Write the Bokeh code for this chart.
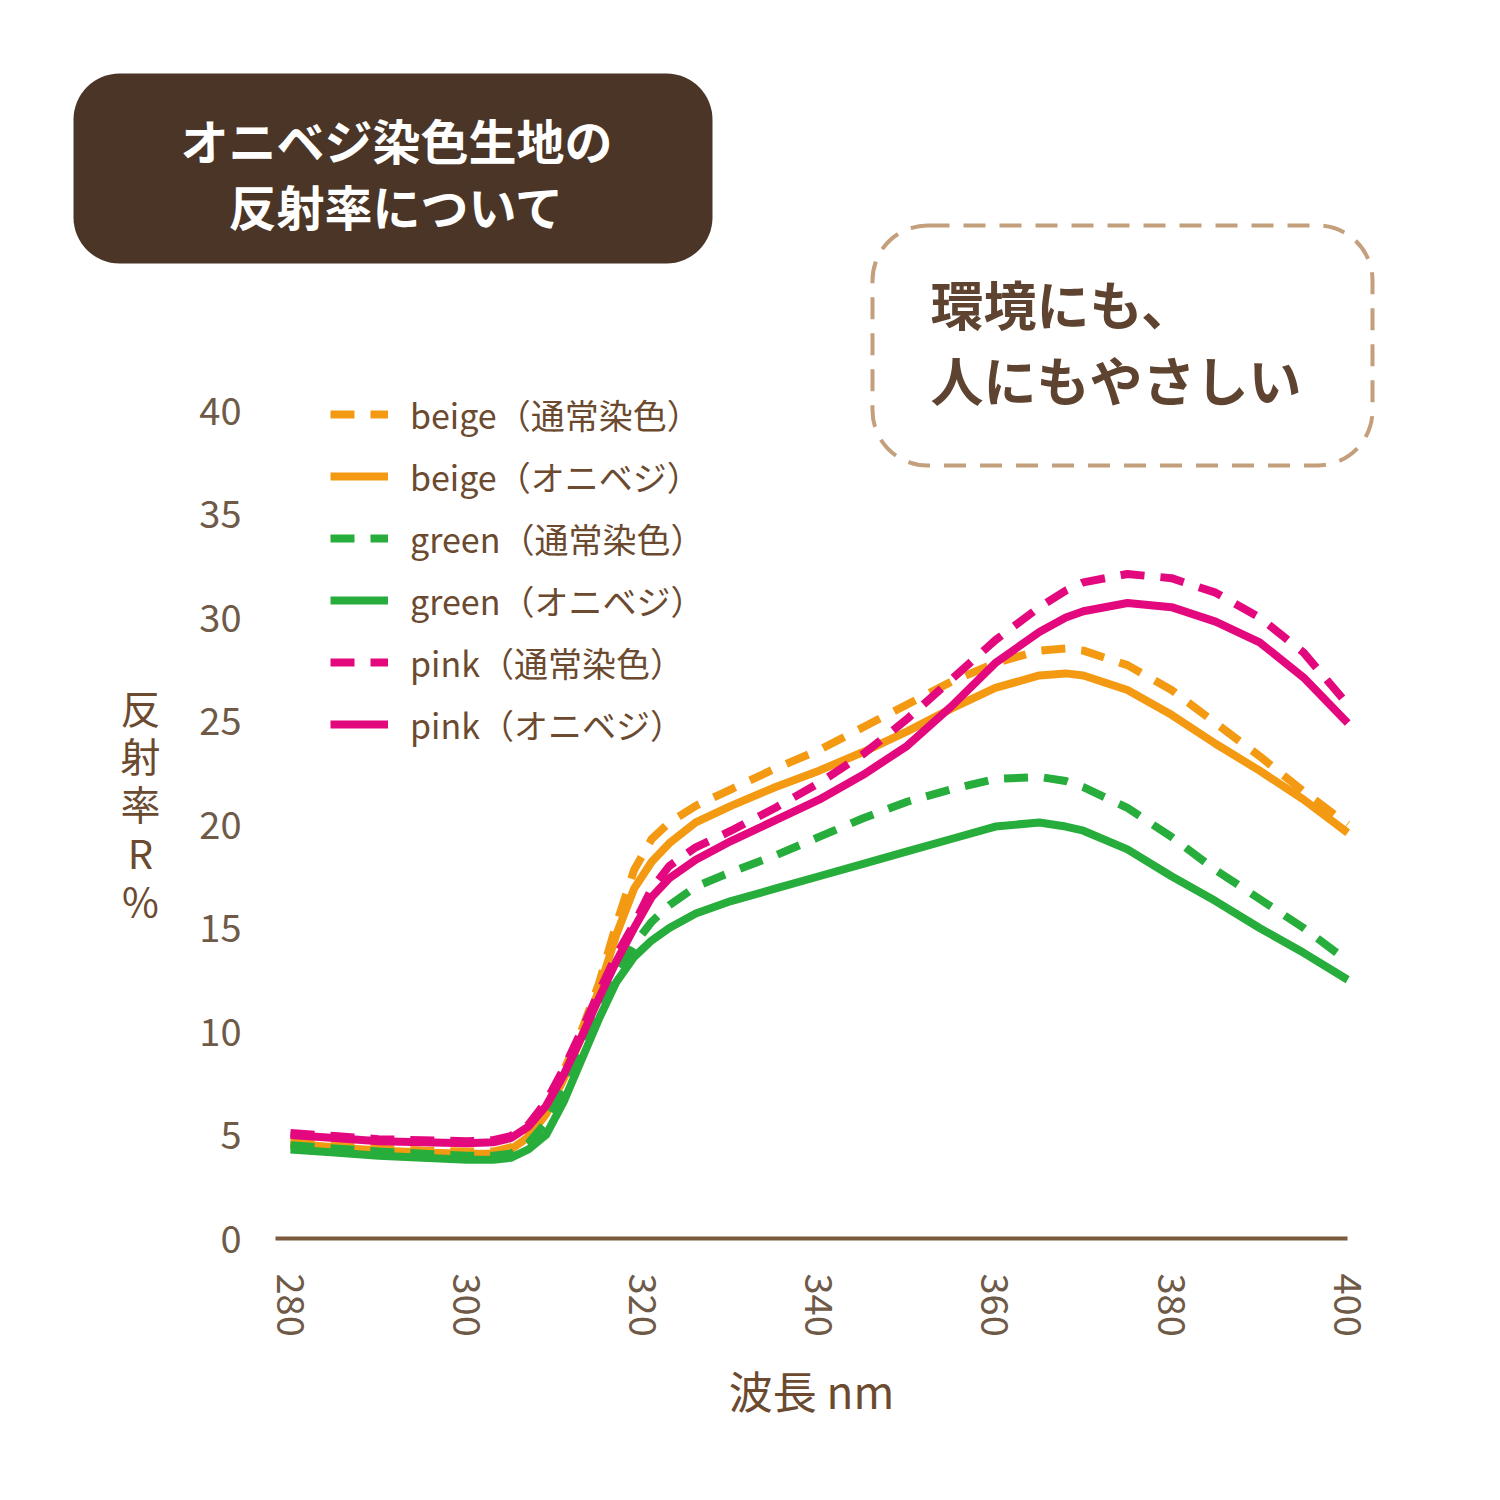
from bokeh.plotting import figure
from bokeh.models import Range1d, FixedTicker, Legend, LegendItem, BoxAnnotation, Label
from bokeh.embed import file_html
from bokeh.resources import INLINE

# ---- data ----
wavelength = [280, 285, 290, 295, 300, 303, 305, 307, 309, 311, 313, 315, 317, 319, 321, 323,
              326, 330, 335, 340, 345, 350, 355, 360, 365, 368, 370, 375, 380, 385, 390, 395, 400]

beige_regular = [4.7, 4.5, 4.35, 4.25, 4.2, 4.2, 4.4, 5.0, 6.3, 8.1, 10.0, 12.3, 15.2, 17.8, 19.3, 20.1,
                 20.9, 21.7, 22.7, 23.6, 24.7, 25.8, 26.9, 27.8, 28.4, 28.5, 28.4, 27.7, 26.5, 24.9, 23.3, 21.6, 20.0]
beige_onibeji = [4.6, 4.4, 4.25, 4.15, 4.1, 4.1, 4.3, 4.9, 6.0, 7.7, 9.7, 12.0, 14.7, 16.9, 18.2, 19.1,
                 20.1, 20.9, 21.8, 22.6, 23.5, 24.5, 25.6, 26.6, 27.2, 27.3, 27.2, 26.5, 25.3, 23.9, 22.6, 21.2, 19.6]
green_regular = [4.5, 4.35, 4.2, 4.1, 4.0, 4.0, 4.1, 4.6, 5.6, 7.2, 9.0, 10.9, 12.7, 14.2, 15.3, 16.1,
                 17.0, 17.7, 18.5, 19.4, 20.3, 21.1, 21.7, 22.2, 22.3, 22.1, 21.8, 20.8, 19.4, 17.8, 16.4, 15.0, 13.4]
green_onibeji = [4.3, 4.15, 4.0, 3.9, 3.8, 3.8, 3.9, 4.3, 5.0, 6.6, 8.6, 10.6, 12.4, 13.6, 14.4, 15.0,
                 15.7, 16.3, 16.9, 17.5, 18.1, 18.7, 19.3, 19.9, 20.1, 19.9, 19.7, 18.8, 17.5, 16.3, 15.0, 13.8, 12.5]
pink_regular = [5.1, 4.95, 4.8, 4.75, 4.7, 4.75, 4.95, 5.5, 6.6, 8.2, 10.0, 11.9, 13.7, 15.2, 16.9, 18.0,
                18.9, 19.7, 20.8, 22.0, 23.4, 25.1, 27.0, 28.9, 30.5, 31.3, 31.7, 32.1, 31.9, 31.2, 30.0, 28.3, 25.8]
pink_onibeji = [5.0, 4.85, 4.7, 4.65, 4.6, 4.65, 4.85, 5.4, 6.4, 7.9, 9.7, 11.6, 13.4, 15.0, 16.5, 17.4,
                18.3, 19.2, 20.2, 21.2, 22.4, 23.8, 25.7, 27.8, 29.3, 30.0, 30.3, 30.7, 30.5, 29.8, 28.8, 27.1, 24.9]

series_labels = ["beige（通常染色）", "beige（オニベジ）", "green（通常染色）",
                 "green（オニベジ）", "pink（通常染色）", "pink（オニベジ）"]
x_ticks = [280, 300, 320, 340, 360, 380, 400]
y_ticks = [0, 5, 10, 15, 20, 25, 30, 35, 40]

title_lines = ["オニベジ染色生地の", "反射率について"]
note_lines = ["環境にも、", "人にもやさしい"]
y_title = "反\n射\n率\nR\n%"
x_title = "波長 nm"

# ---- styling / geometry ----
FONT = "Noto Sans CJK JP"
BROWN = "#6b4a30"
TICK_BROWN = "#6e5a47"
ORANGE = "#f39a12"
GREEN = "#27ad3b"
PINK = "#e4087f"

W = H = 1492
PX_PER_NM = 8.81          # horizontal scale
PX_PER_PCT = 20.7         # vertical scale
X0_PX, X0_NM = 290, 280   # where 280 nm sits
Y0_PX = 1238              # where 0 % sits
AXIS_LEFT_PX, AXIS_RIGHT_PX = 275, 1347

x_start = X0_NM - X0_PX / PX_PER_NM
x_end = X0_NM + (W - X0_PX) / PX_PER_NM
y_end = Y0_PX / PX_PER_PCT
y_start = -(H - Y0_PX) / PX_PER_PCT
axis_left_nm = X0_NM + (AXIS_LEFT_PX - X0_PX) / PX_PER_NM
axis_right_nm = X0_NM + (AXIS_RIGHT_PX - X0_PX) / PX_PER_NM

p = figure(width=W, height=H, output_backend="svg", toolbar_location=None,
           x_range=Range1d(x_start, x_end), y_range=Range1d(y_start, y_end),
           min_border=0, min_border_left=0, min_border_right=0,
           min_border_top=0, min_border_bottom=0)
p.background_fill_color = "white"
p.border_fill_color = "white"
p.outline_line_color = None
p.xgrid.visible = False
p.ygrid.visible = False

# axes drawn at fixed data locations inside the frame
xa = p.xaxis[0]
xa.fixed_location = 0
xa.bounds = (axis_left_nm, axis_right_nm)
xa.ticker = FixedTicker(ticks=x_ticks)
xa.major_label_orientation = "vertical"
xa.major_label_text_font = FONT
xa.major_label_text_font_size = "38px"
xa.major_label_text_color = TICK_BROWN
xa.major_label_standoff = 29
xa.major_tick_line_color = None
xa.minor_tick_line_color = None
xa.axis_line_color = "#7a5a3a"
xa.axis_line_width = 4
xa.axis_label = x_title
xa.axis_label_text_font = FONT
xa.axis_label_text_font_size = "44px"
xa.axis_label_text_font_style = "normal"
xa.axis_label_text_color = BROWN
xa.axis_label_standoff = 18

ya = p.yaxis[0]
ya.fixed_location = axis_left_nm
ya.bounds = (0, 40)
ya.ticker = FixedTicker(ticks=y_ticks)
ya.major_label_text_font = FONT
ya.major_label_text_font_size = "38px"
ya.major_label_text_color = TICK_BROWN
ya.major_label_standoff = 28
ya.major_tick_line_color = None
ya.minor_tick_line_color = None
ya.axis_line_color = None

# lines
DASH = "24 16"
LW = 8
kw = dict(line_width=LW, line_join="round")
r_br = p.line(wavelength, beige_regular, line_color=ORANGE, line_dash=DASH, **kw)
r_bo = p.line(wavelength, beige_onibeji, line_color=ORANGE, **kw)
r_gr = p.line(wavelength, green_regular, line_color=GREEN, line_dash=DASH, **kw)
r_go = p.line(wavelength, green_onibeji, line_color=GREEN, **kw)
r_pr = p.line(wavelength, pink_regular, line_color=PINK, line_dash=DASH, **kw)
r_po = p.line(wavelength, pink_onibeji, line_color=PINK, **kw)

renderers = [r_br, r_bo, r_gr, r_go, r_pr, r_po]
legend = Legend(items=[LegendItem(label=l, renderers=[r]) for l, r in zip(series_labels, renderers)],
                location=(330, H - 749), orientation="vertical",
                label_text_font=FONT, label_text_font_size="34px", label_text_color=BROWN,
                glyph_width=58, glyph_height=50, label_height=50, spacing=12,
                label_standoff=22, padding=0, margin=0,
                background_fill_alpha=0, border_line_color=None)
p.add_layout(legend, "center")

# header box
p.add_layout(BoxAnnotation(left=73, right=712, top=73, bottom=263,
                           left_units="canvas", right_units="canvas",
                           top_units="canvas", bottom_units="canvas",
                           fill_color="#4a3526", fill_alpha=1, line_color=None,
                           border_radius=46))
for i, t in enumerate(title_lines):
    p.add_layout(Label(x=396, y=138 + i * 66, x_units="canvas", y_units="canvas", text=t,
                       text_font=FONT, text_font_size="48px", text_font_style="bold",
                       text_color="white", text_align="center", text_baseline="middle"))

# dashed note box
p.add_layout(BoxAnnotation(left=872, right=1372, top=225, bottom=465,
                           left_units="canvas", right_units="canvas",
                           top_units="canvas", bottom_units="canvas",
                           fill_alpha=0, line_color="#c49f7c", line_alpha=1,
                           line_width=4, line_dash="22 14", border_radius=55))
for i, t in enumerate(note_lines):
    p.add_layout(Label(x=930, y=302 + i * 76, x_units="canvas", y_units="canvas", text=t,
                       text_font=FONT, text_font_size="53px", text_font_style="bold",
                       text_color="#5e4430", text_align="left", text_baseline="middle"))

# y axis title (stacked characters)
p.add_layout(Label(x=140, y=803, x_units="canvas", y_units="canvas", text=y_title,
                   text_font=FONT, text_font_size="40px", text_color=BROWN,
                   text_align="center", text_baseline="middle", text_line_height=0.83))

open("out.html", "w").write(file_html(p, INLINE))
